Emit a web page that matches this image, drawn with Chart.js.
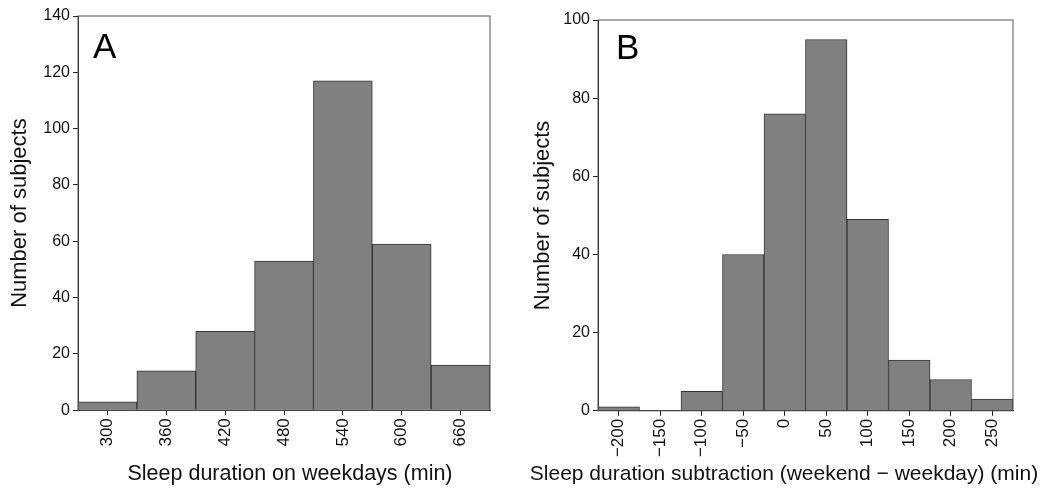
<!DOCTYPE html>
<html>
<head>
<meta charset="utf-8">
<script src="https://cdn.jsdelivr.net/npm/chart.js@4/dist/chart.umd.min.js"></script>
<style>
  body { margin: 0; background: #fff; overflow: hidden; }
  canvas { position: absolute; top: 0; }
  #chartA { left: 0; }
  #chartB { left: 527px; }
</style>
</head>
<body>
<canvas id="chartB" width="514" height="491"></canvas>
<canvas id="chartA" width="580" height="491"></canvas>
<script>
// panel A: sleep duration on weekdays
const binsA = ['300', '360', '420', '480', '540', '600', '660'];
const countsA = [3, 14, 28, 53, 117, 59, 16];
const yTicksA = [0, 20, 40, 60, 80, 100, 120, 140];

// panel B: weekend - weekday difference
const binsB = ['\u2212200', '\u2212150', '\u2212100', '\u221250', '0', '50', '100', '150', '200', '250'];
const countsB = [1, 0, 5, 40, 76, 95, 49, 13, 8, 3];
const yTicksB = [0, 20, 40, 60, 80, 100];

const fontFam = '"Liberation Sans", Arial, sans-serif';
const ink = '#222';

// box round the plot + the big panel letter
const framePlugin = {
    id: 'frame',
    afterDraw(chart, args, opts) {
        const a = chart.chartArea;
        const ctx = chart.ctx;
        ctx.save();
        ctx.strokeStyle = '#555';
        ctx.lineWidth = 1;
        ctx.strokeRect(a.left, a.top, a.right - a.left, a.bottom - a.top);
        ctx.fillStyle = '#000';
        ctx.font = '35px ' + fontFam;
        ctx.textBaseline = 'alphabetic';
        ctx.fillText(opts.letter, a.left + opts.dx, a.top + opts.dy);
        ctx.restore();
    }
};

function histOptions(cfg) {
    return {
        responsive: false,
        animation: false,
        layout: { padding: { left: 0, right: 0, top: cfg.top, bottom: 0 } },
        plugins: {
            legend: { display: false },
            tooltip: { enabled: false },
            title: {
                display: true, position: 'bottom', text: cfg.xTitle,
                color: '#111', padding: { top: 0, bottom: 4 },
                font: { family: fontFam, size: cfg.xTitleSize, weight: 'normal' }
            },
            frame: { letter: cfg.letter, dx: cfg.dx, dy: cfg.dy }
        },
        scales: {
            x: {
                offset: true,
                afterFit: s => { s.height = cfg.xHeight; },
                grid: { offset: false, drawOnChartArea: false, tickLength: 5, color: ink },
                border: { color: ink },
                ticks: {
                    minRotation: 90, maxRotation: 90, padding: 3,
                    color: '#111', font: { family: fontFam, size: 17 }
                }
            },
            y: {
                min: 0, max: cfg.yMax,
                afterFit: s => { s.width = cfg.yWidth; },
                afterBuildTicks: s => { s.ticks = cfg.yTicks.map(v => ({ value: v })); },
                grid: { drawOnChartArea: false, tickLength: 5, color: ink },
                border: { color: ink },
                ticks: { padding: 3, color: '#111', font: { family: fontFam, size: 16 } },
                title: {
                    display: true, text: 'Number of subjects', color: '#111',
                    padding: { top: cfg.yTitlePad, bottom: 0 },
                    font: { family: fontFam, size: 22 }
                }
            },
            // empty axis on the right, only to hold the plot's right edge
            spacer: {
                type: 'linear', position: 'right',
                afterFit: s => { s.width = cfg.rightGap; },
                grid: { display: false }, border: { display: false }, ticks: { display: false }
            }
        }
    };
}

function barSet(data) {
    return {
        data: data,
        backgroundColor: '#808080',
        borderColor: '#333',
        borderWidth: 1,
        barPercentage: 1,
        categoryPercentage: 1
    };
}

const chartA = new Chart(document.getElementById('chartA'), {
    type: 'bar',
    data: { labels: binsA, datasets: [barSet(countsA)] },
    options: histOptions({
        top: 16, yMax: 140, yTicks: yTicksA, yWidth: 78, yTitlePad: 7,
        xHeight: 51, rightGap: 90,
        xTitle: 'Sleep duration on weekdays (min)', xTitleSize: 21.5,
        letter: 'A', dx: 15, dy: 42
    }),
    plugins: [framePlugin]
});

const chartB = new Chart(document.getElementById('chartB'), {
    type: 'bar',
    data: { labels: binsB, datasets: [barSet(countsB)] },
    options: histOptions({
        top: 20, yMax: 100, yTicks: yTicksB, yWidth: 71, yTitlePad: 3,
        xHeight: 51, rightGap: 28,
        xTitle: 'Sleep duration subtraction (weekend \u2212 weekday) (min)', xTitleSize: 21,
        letter: 'B', dx: 18, dy: 39
    }),
    plugins: [framePlugin]
});
</script>
</body>
</html>
